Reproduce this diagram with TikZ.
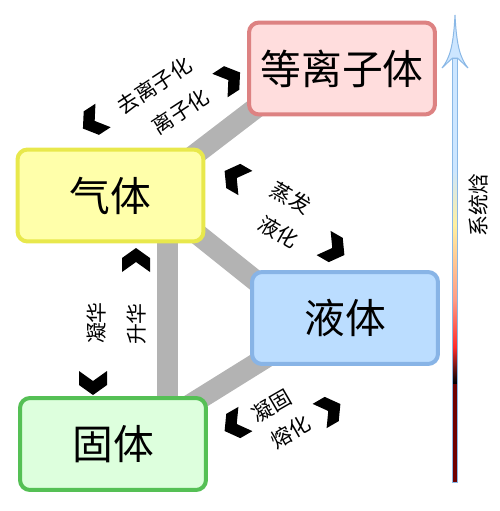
\documentclass[tikz,border=0pt]{standalone}
\usepackage{fontspec}
\newfontfamily\cjk{Noto Sans CJK SC}
\usetikzlibrary{backgrounds}
\definecolor{plasmaF}{HTML}{FFDDDD}
\definecolor{plasmaD}{HTML}{DD8282}
\definecolor{gasF}{HTML}{FFFFAA}
\definecolor{gasD}{HTML}{E8E84C}
\definecolor{liqF}{HTML}{BBDDFF}
\definecolor{liqD}{HTML}{88B4E6}
\definecolor{solF}{HTML}{DDFFDD}
\definecolor{solD}{HTML}{55C055}
\definecolor{barC}{HTML}{B3B3B3}
\definecolor{hBlue}{HTML}{CDE6FF}
\definecolor{hEdge}{HTML}{8AB8E6}
\definecolor{hDark}{HTML}{6E0000}
\definecolor{hRed}{HTML}{FF2B2B}
\definecolor{hSalmon}{HTML}{FF9B85}
\definecolor{hYellow}{HTML}{FFF0A0}
\begin{document}
\begin{tikzpicture}[x=0.02cm,y=-0.02cm,
  statebox/.style={rounded corners=0.2cm, line width=0.08cm, minimum width=3.72cm,
    minimum height=1.84cm, inner sep=0pt, font=\cjk\fontsize{23.2}{26}\selectfont},
  lbl/.style={font=\cjk\fontsize{11.9}{13}\selectfont, inner sep=0pt},
  bar/.style={line width=0.42cm, draw=barC},
  chev/.pic={\fill (12,0) -- (2,14) -- (-12,14) -- (-2,0) -- (-12,-14) -- (2,-14) -- cycle;}
]
\useasboundingbox (0,0) rectangle (500,511);

% states
\node[statebox, fill=plasmaF, draw=plasmaD] (plasma) at (342,68.5) {等离子体};
\node[statebox, fill=gasF, draw=gasD] (gas) at (110.5,195.5) {气体};
\node[statebox, fill=liqF, draw=liqD] (liquid) at (345,318) {液体};
\node[statebox, fill=solF, draw=solD] (solid) at (113,444) {固体};

% connecting bars
\begin{scope}[on background layer]
\draw[bar] ([shift={(69.5,-29.5)}]gas.center) -- ([shift={(-67,24.8)}]plasma.center);
\draw[bar] ([shift={(74.5,28.7)}]gas.center) -- ([shift={(-70,-21.8)}]liquid.center);
\draw[bar] ([shift={(57,34.5)}]gas.center) -- ([shift={(54.5,-34)}]solid.center);
\draw[bar] ([shift={(67,-33)}]solid.center) -- ([shift={(-75,37)}]liquid.center);
\end{scope}

% labels
\node[lbl, rotate=33] (deion) at (154.5,85.5) {去离子化};
\node[lbl, rotate=33] (ion) at (180.5,111.5) {离子化};
\node[lbl, rotate=-30] (evap) at (291,198) {蒸发};
\node[lbl, rotate=-30] (liqf) at (278.5,232) {液化};
\node[lbl, rotate=90] (depo) at (97,323) {凝华};
\node[lbl, rotate=90] (subl) at (137,324) {升华};
\node[lbl, rotate=30] (frz) at (271.5,406) {凝固};
\node[lbl, rotate=30] (melt) at (290.5,432) {熔化};

% chevrons
\pic[rotate=213] at (93,122) {chev};
\pic[rotate=33] at (230,79) {chev};
\pic[rotate=150] at (235,177) {chev};
\pic[rotate=-30] at (334,249) {chev};
\pic[rotate=90] at (136,260) {chev};
\pic[rotate=270] at (93,383) {chev};
\pic[rotate=210] at (235,425) {chev};
\pic[rotate=30] at (330,410) {chev};

% enthalpy axis
\fill[hDark] (452.5,482) rectangle (457.5,383);
\shade[bottom color=black, top color=hRed] (452.5,383) rectangle (457.5,347);
\shade[bottom color=hRed, top color=hSalmon] (452.5,347) rectangle (457.5,300);
\shade[bottom color=hSalmon, top color=hYellow] (452.5,300) rectangle (457.5,225);
\shade[bottom color=hYellow, top color=hBlue] (452.5,225) rectangle (457.5,170);
\fill[hBlue] (452.5,170) rectangle (457.5,58);
\draw[hEdge, line width=0.015cm] (452.5,482) rectangle (457.5,58);
\filldraw[fill=hBlue, draw=hEdge, line width=0.02cm]
  (455,15) .. controls (453.5,45) and (450,58) .. (442,68)
  -- (452.5,58) -- (457.5,58) -- (468,68)
  .. controls (460,58) and (456.5,45) .. (455,15) -- cycle;
\node[lbl, rotate=90] (enth) at (478,205) {系统焓};
\end{tikzpicture}
\end{document}
